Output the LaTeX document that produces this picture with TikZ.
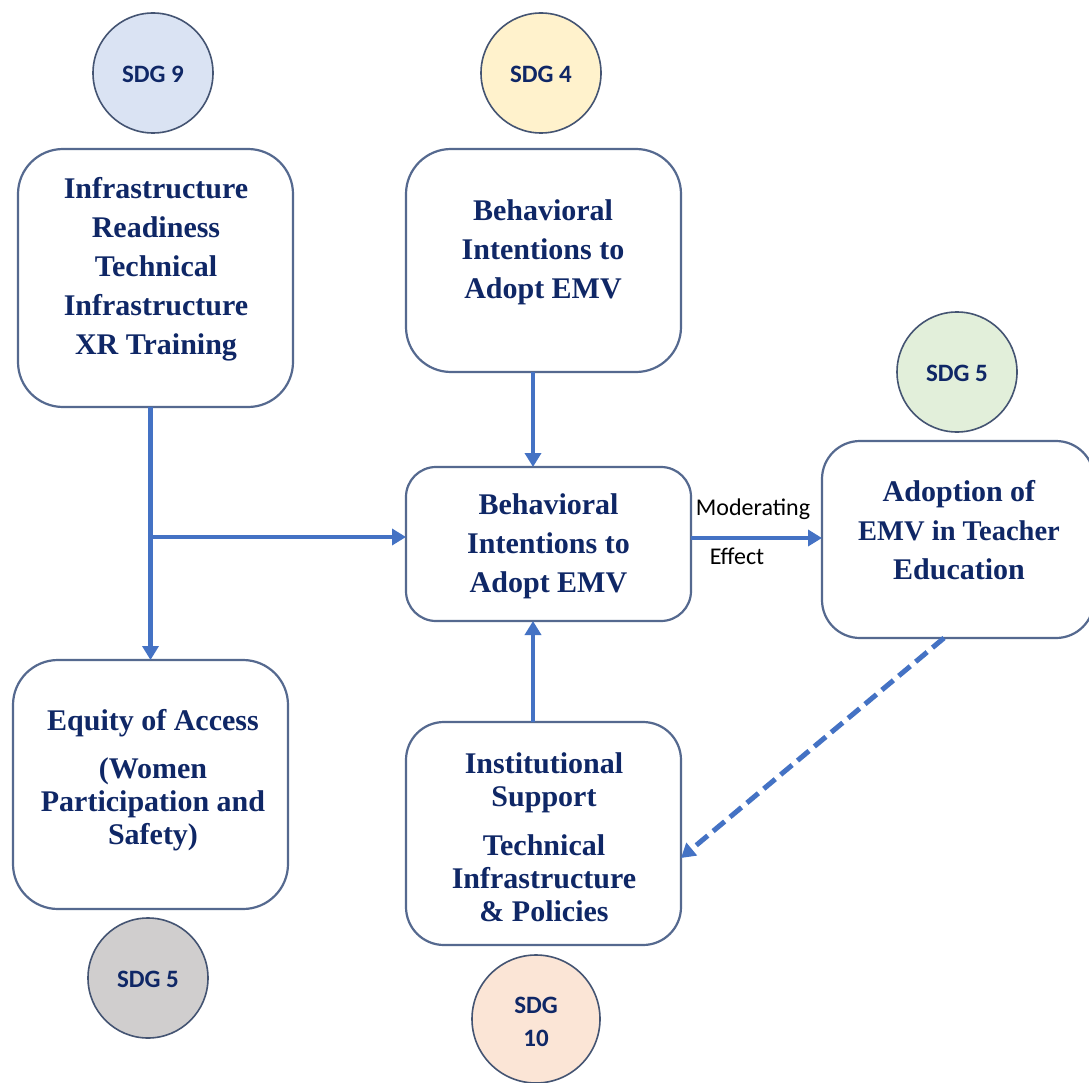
\documentclass[tikz,border=0pt]{standalone}
\usepackage{fontspec}
\setmainfont{Liberation Serif}
\newfontfamily\sdgfont{Carlito}
\usetikzlibrary{arrows.meta}
\definecolor{navy}{HTML}{0F2766}
\definecolor{edge}{HTML}{55698F}
\definecolor{flow}{HTML}{4472C4}
\definecolor{sdgblue}{HTML}{DAE3F3}
\definecolor{sdgyellow}{HTML}{FFF2CC}
\definecolor{sdggreen}{HTML}{E2EFDA}
\definecolor{sdggrey}{HTML}{D0CECE}
\definecolor{sdgpeach}{HTML}{FBE5D6}
\tikzset{
  card/.style={draw=edge,line width=2.2pt,fill=white,rounded corners=#1,inner sep=0pt,outer sep=0pt},
  cardtext/.style={text=navy,align=center,inner sep=0pt,font=\fontsize{30}{39}\selectfont\bfseries},
  cardtight/.style={text=navy,align=center,inner sep=0pt,font=\fontsize{30}{33}\selectfont\bfseries},
  goal/.style={circle,draw=edge!80!black,line width=1.6pt,inner sep=0pt,outer sep=0pt,minimum size=#1},
  goaltext/.style={text=navy,align=center,inner sep=0pt,font=\fontsize{25}{33}\selectfont\sdgfont\bfseries},
  flowline/.style={draw=flow,line width=4.4pt,-{Triangle[length=14pt,width=16pt]}},
  dashline/.style={flowline,line width=5pt,dash pattern=on 15pt off 7pt},
  note/.style={inner sep=0pt,text=black,font=\fontsize{24}{28}\selectfont\sdgfont},
}
\begin{document}
\begin{tikzpicture}[x=1pt,y=-1pt]
\useasboundingbox (0,0) rectangle (1089,1083);
\clip (0,0) rectangle (1089,1083);
\fill[white] (0,0) rectangle (1089,1083);
% circles
\node[goal=120pt,fill=sdgblue,label={[goaltext,yshift=-1.5pt]center:SDG 9}] (g9) at (153,73) {};
\node[goal=120pt,fill=sdgyellow,label={[goaltext,yshift=-1.5pt]center:SDG 4}] (g4) at (541,73) {};
\node[goal=120pt,fill=sdggreen,label={[goaltext,yshift=-1pt]center:SDG 5}] (g5a) at (957,372) {};
\node[goal=120pt,fill=sdggrey,label={[goaltext,yshift=-1.5pt]center:SDG 5}] (g5b) at (148,978) {};
\node[goal=128pt,fill=sdgpeach,label={[goaltext,yshift=-3pt]center:{SDG\\10}}] (g10) at (536,1019) {};
% cards
\node[card=45pt,minimum width=275pt,minimum height=258pt,
  label={[cardtext,xshift=0.5pt,yshift=8.7pt]center:{Infrastructure\\Readiness\\Technical\\Infrastructure\\XR Training}}] (infra) at (155.5,278) {};
\node[card=45pt,minimum width=275pt,minimum height=223pt,
  label={[cardtext,xshift=-0.5pt,yshift=8pt]center:{Behavioral\\Intentions to\\Adopt EMV}}] (intent) at (543.5,260.5) {};
\node[card=30pt,minimum width=285pt,minimum height=154pt,
  label={[cardtext,yshift=-2.5pt]center:{Behavioral\\Intentions to\\Adopt EMV}}] (core) at (548.5,544) {};
\node[card=38pt,minimum width=272pt,minimum height=197pt,
  label={[cardtext,xshift=1pt,yshift=9.5pt]center:{Adoption of\\{\fontsize{28.5}{39}\selectfont EMV in Teacher}\\Education}}] (adopt) at (958,539.5) {};
\node[card=45pt,minimum width=275pt,minimum height=249pt,
  label={[cardtight,xshift=2.5pt,yshift=4pt]center:{Equity of Access\\[15pt](Women\\Participation and\\Safety)}}] (equity) at (150.5,784.5) {};
\node[card=38pt,minimum width=275pt,minimum height=223pt,
  label={[cardtight,xshift=0.5pt,yshift=-4pt]center:{Institutional\\Support\\[16pt]Technical\\Infrastructure\\\&~Policies}}] (inst) at (543.5,833.5) {};
% connectors
\draw[flowline] (equity.north |- infra.south) -- (equity.north);
\coordinate (branch) at (equity.north |- core.west);
\draw[flowline] ([yshift=7pt]branch) -- ([yshift=7pt]core.west);
\draw[flowline] ([xshift=-10.5pt]intent.south) -- ([xshift=-15.5pt]core.north);
\draw[flowline] ([xshift=-10.5pt]inst.north) -- ([xshift=-15.5pt]core.south);
\draw[flowline] ([yshift=1.5pt]core.east |- adopt.west) -- ([yshift=1.5pt]adopt.west);
\draw[dashline] ([xshift=-14pt]adopt.south) -- ([yshift=-24.5pt]inst.east);
% notes
\node[note] (mod) at (753,509) {Moderating};
\node[note] (eff) at (737,556) {Effect};
\end{tikzpicture}
\end{document}
